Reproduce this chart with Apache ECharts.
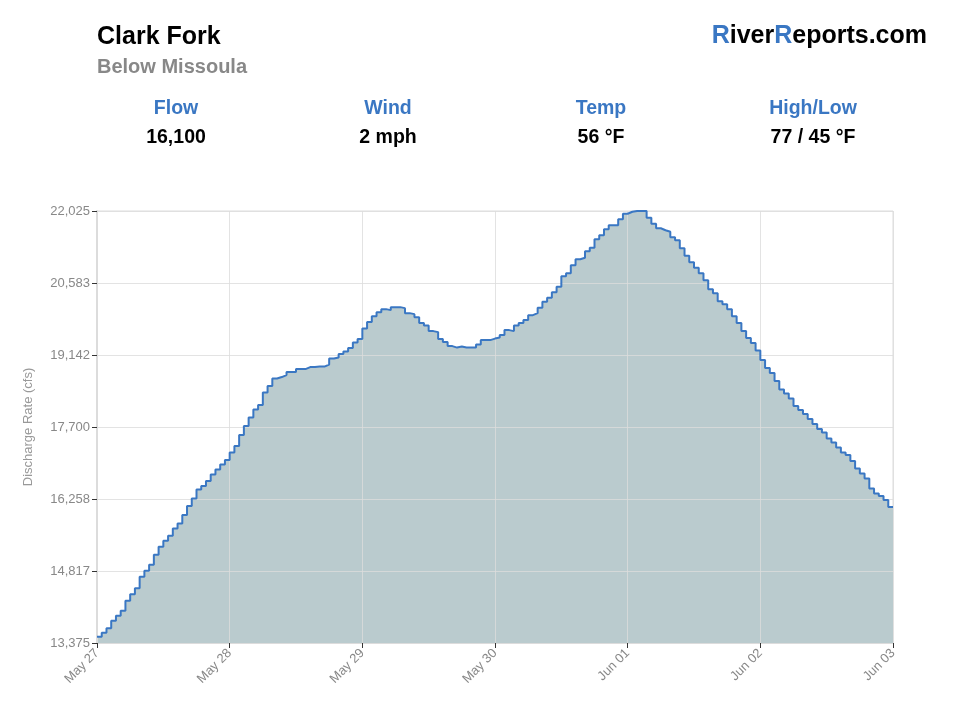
<!DOCTYPE html>
<html>
<head>
<meta charset="utf-8">
<title>Clark Fork - Below Missoula</title>
<script src="https://cdn.jsdelivr.net/npm/echarts@6/dist/echarts.min.js"></script>
<style>
  html, body { margin: 0; padding: 0; background: #fff; }
  #chart { width: 960px; height: 720px; }
</style>
</head>
<body>
<div id="chart"></div>
<script>
// hourly discharge (cfs), May 27 00:00 -> Jun 03 00:00
var flowValues = [
  13500, 13580, 13670, 13820, 13920, 14020, 14220, 14350, 14470, 14700,
  14820, 14940, 15140, 15300, 15420, 15520, 15670, 15770, 15940, 16120,
  16270, 16450, 16520, 16620, 16750, 16850, 16950, 17040, 17190, 17320,
  17540, 17720, 17890, 18050, 18140, 18390, 18520, 18670, 18700, 18740,
  18800, 18800, 18860, 18860, 18900, 18900, 18910, 18910, 18950, 19070,
  19090, 19160, 19210, 19280, 19390, 19460, 19670, 19800, 19920, 20000,
  20060, 20040, 20100, 20100, 20080, 19980, 19960, 19900, 19780, 19730,
  19620, 19600, 19460, 19400, 19320, 19290, 19310, 19290, 19290, 19290,
  19350, 19440, 19440, 19470, 19490, 19540, 19640, 19620, 19730, 19780,
  19840, 19940, 19980, 20090, 20210, 20290, 20400, 20510, 20720, 20780,
  20940, 21060, 21090, 21220, 21290, 21460, 21540, 21660, 21740, 21740,
  21860, 21970, 22010, 22025, 22025, 22025, 21890, 21770, 21680, 21640,
  21610, 21500, 21440, 21280, 21130, 21000, 20890, 20780, 20640, 20460,
  20380, 20220, 20160, 20060, 19920, 19780, 19620, 19480, 19380, 19230,
  19040, 18880, 18780, 18620, 18450, 18370, 18270, 18120, 18040, 17960,
  17860, 17760, 17660, 17590, 17470, 17390, 17290, 17190, 17140, 17020,
  16870, 16770, 16670, 16470, 16370, 16320, 16240, 16100, 16100
];
var xTickLabels = ["May 27", "May 28", "May 29", "May 30", "Jun 01", "Jun 02", "Jun 03"];
var yTickLabels = ["13,375", "14,817", "16,258", "17,700", "19,142", "20,583", "22,025"];
var yMin = 13375;
var yMax = 22025;

var statLabels = ["Flow", "Wind", "Temp", "High/Low"];
var statValues = ["16,100", "2 mph", "56 °F", "77 / 45 °F"];

var FONT = "'Liberation Sans', Arial, Helvetica, sans-serif";
var BLUE = "#3a77c3";

var points = flowValues.map(function (v, i) { return [i, v]; });
var xMax = flowValues.length - 1;
var xStep = xMax / (xTickLabels.length - 1);
var yStep = (yMax - yMin) / (yTickLabels.length - 1);

var statX = [176, 388, 601, 813];
var graphics = [
  { type: "text", left: 97, top: 25, style: { text: "Clark Fork", font: "bold 25px " + FONT, fill: "#000" } },
  { type: "text", left: 97, top: 57, style: { text: "Below Missoula", font: "bold 20px " + FONT, fill: "#888" } },
  {
    type: "text", right: 33, top: 24,
    style: {
      text: "{b|R}iver{b|R}eports.com",
      font: "bold 25px " + FONT, fill: "#000",
      rich: { b: { fill: BLUE, font: "bold 25px " + FONT } }
    }
  }
];
statLabels.forEach(function (s, i) {
  graphics.push({ type: "text", x: statX[i], y: 109, style: { text: s, font: "bold 19.5px " + FONT, fill: BLUE, align: "center", verticalAlign: "middle" } });
  graphics.push({ type: "text", x: statX[i], y: 138, style: { text: statValues[i], font: "bold 19.5px " + FONT, fill: "#000", align: "center", verticalAlign: "middle" } });
});

var chart = echarts.init(document.getElementById("chart"));
chart.setOption({
  animation: false,
  backgroundColor: "#fff",
  textStyle: { fontFamily: FONT },
  graphic: graphics,
  grid: {
    left: 97, right: 67, top: 211, bottom: 77,
    show: true, borderColor: "#dcdcdc", borderWidth: 1
  },
  xAxis: {
    type: "value",
    min: 0,
    max: xMax,
    interval: xStep,
    z: 2,
    axisLine: { show: true, lineStyle: { color: "#dcdcdc", width: 1 } },
    axisTick: { show: true, length: 5, lineStyle: { color: "#333" } },
    axisLabel: {
      rotate: 45, color: "#888", fontSize: 13, margin: 8,
      formatter: function (v) { return xTickLabels[Math.round(v / xStep)]; }
    },
    splitLine: { show: true, lineStyle: { color: "rgba(220,220,220,0.8)" } }
  },
  yAxis: {
    type: "value",
    min: yMin,
    max: yMax,
    interval: yStep,
    z: 2,
    name: "Discharge Rate (cfs)",
    nameLocation: "middle",
    nameGap: 62,
    nameTextStyle: { color: "#999", fontSize: 13 },
    axisLine: { show: true, lineStyle: { color: "#dcdcdc", width: 2 } },
    axisTick: { show: true, length: 5, lineStyle: { color: "#333" } },
    axisLabel: {
      color: "#888", fontSize: 13, margin: 7,
      formatter: function (v) { return yTickLabels[Math.round((v - yMin) / yStep)]; }
    },
    splitLine: { show: true, lineStyle: { color: "rgba(220,220,220,0.8)" } }
  },
  series: [
    {
      type: "line",
      step: "end",
      z: 1,
      symbol: "none",
      data: points,
      lineStyle: { width: 0 },
      areaStyle: { color: "#bacbce", opacity: 1 }
    },
    {
      type: "line",
      step: "end",
      z: 3,
      symbol: "none",
      data: points,
      lineStyle: { color: BLUE, width: 2 }
    }
  ]
});
</script>
</body>
</html>
